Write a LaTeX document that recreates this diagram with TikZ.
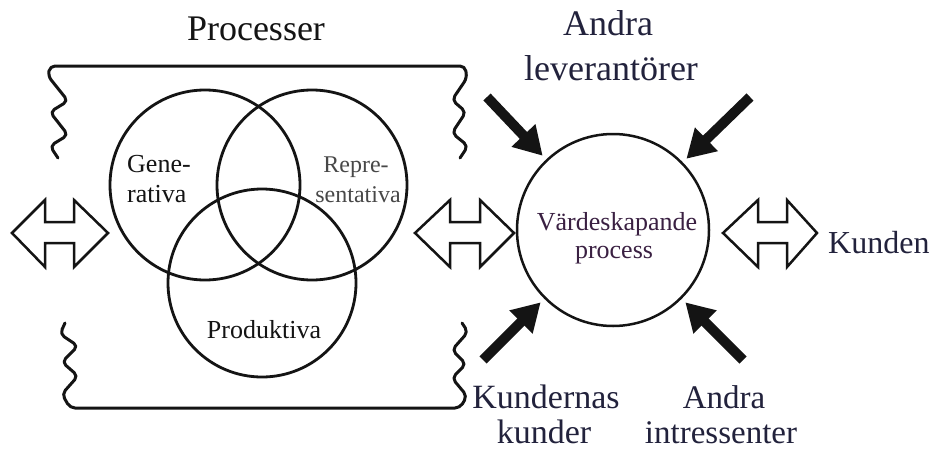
\documentclass[tikz,border=0pt]{standalone}
\usepackage{fontspec}
\setmainfont{Liberation Serif}
\usetikzlibrary{arrows.meta}
\definecolor{navy}{RGB}{34,34,60}
\definecolor{dpurple}{RGB}{58,32,66}
\definecolor{greytext}{RGB}{72,72,72}
\definecolor{ink}{RGB}{20,20,20}
\tikzset{
  venn/.style={circle, draw=ink, line width=2.8, minimum size=190, inner sep=0},
  bigcirc/.style={circle, draw=ink, line width=2.5, minimum size=192, inner sep=0},
  frame/.style={draw=ink, line width=3, rounded corners=5, line cap=round, line join=round},
  dblarrow/.style={draw=ink, line width=2.5, fill=white, line join=miter},
  darrow/.style={draw=ink, line width=10, -{Triangle[length=28pt,width=31pt]}, shorten >=5},
  lbl/.style={inner sep=0, anchor=base},
}
\newcommand{\fs}[1]{\fontsize{#1}{#1}\selectfont}
\begin{document}
\begin{tikzpicture}[x=1pt, y=-1pt]
\useasboundingbox[fill=white] (0,0) rectangle (931,450);

% frame with wavy sides
\draw[frame] (460,158) -- (468,146) -- (452,133) -- (466,112) -- (452,100) -- (467,78) -- (465,66)
   -- (50,66) -- (48,76) -- (68,101) -- (50,112) -- (68,135) -- (50,146) -- (58,158);
\draw[frame] (65,323) -- (60,334) -- (78,346) -- (62,362) -- (78,376) -- (62,394) -- (70,408)
   -- (460,408) -- (467,396) -- (452,378) -- (466,364) -- (452,350) -- (468,332) -- (462,323);

% Venn circles
\node[venn] (gen) at (205,185) {};
\node[venn] (rep) at (312,185) {};
\node[venn, minimum size=188] (prod) at (262,283) {};

% value creating process circle
\node[bigcirc] (vc) at (613,230) {};

% double arrows
\draw[dblarrow] (12,233) -- (45,200) -- (45,222) -- (74,222) -- (74,200) -- (108,233)
   -- (74,267) -- (74,243) -- (45,243) -- (45,267) -- cycle;
\draw[dblarrow] (415,233) -- (450,200) -- (450,222) -- (480,222) -- (480,200) -- (514,233)
   -- (480,267) -- (480,243) -- (450,243) -- (450,267) -- cycle;
\draw[dblarrow] (723,233) -- (758,200) -- (758,222) -- (787,222) -- (787,200) -- (817,233)
   -- (787,267) -- (787,243) -- (758,243) -- (758,267) -- cycle;

% dark arrows
\coordinate (t1) at (487,97);
\coordinate (t2) at (750,97);
\coordinate (t3) at (483,360);
\coordinate (t4) at (743,360);
\draw[darrow] (t1) -- (vc);
\draw[darrow] (t2) -- (vc);
\draw[darrow] (t3) -- (vc);
\draw[darrow] (t4) -- (vc);

% labels
\node[lbl, text=ink] (proc) at (256,40) {\fs{36}Processer};
\node[lbl, text=navy] (al1) at (608,35) {\fs{36}Andra};
\node[lbl, text=navy] (al2) at (611,80) {\fs{36}leverantörer};
\node[lbl, text=ink, anchor=base west] (g1) at (127,172) {\fs{26}Gene-};
\node[lbl, text=ink, anchor=base west] (g2) at (127,202) {\fs{26}rativa};
\node[lbl, text=greytext] (r1) at (356,172) {\fs{24}Repre-};
\node[lbl, text=greytext] (r2) at (358,202) {\fs{24}sentativa};
\node[lbl, text=ink] (p1) at (264,338) {\fs{26}Produktiva};
\node[lbl, text=dpurple] (v1) at (617,230) {\fs{26}Värdeskapande};
\node[lbl, text=dpurple] (v2) at (614,258) {\fs{26}process};
\node[lbl, text=navy, anchor=base west] (kd) at (828,253) {\fs{32}Kunden};
\node[lbl, text=navy] (kk1) at (546,408) {\fs{34}Kundernas};
\node[lbl, text=navy] (kk2) at (544,443) {\fs{34}kunder};
\node[lbl, text=navy] (ai1) at (724,408) {\fs{33}Andra};
\node[lbl, text=navy] (ai2) at (721,443) {\fs{33}intressenter};
\end{tikzpicture}
\end{document}
